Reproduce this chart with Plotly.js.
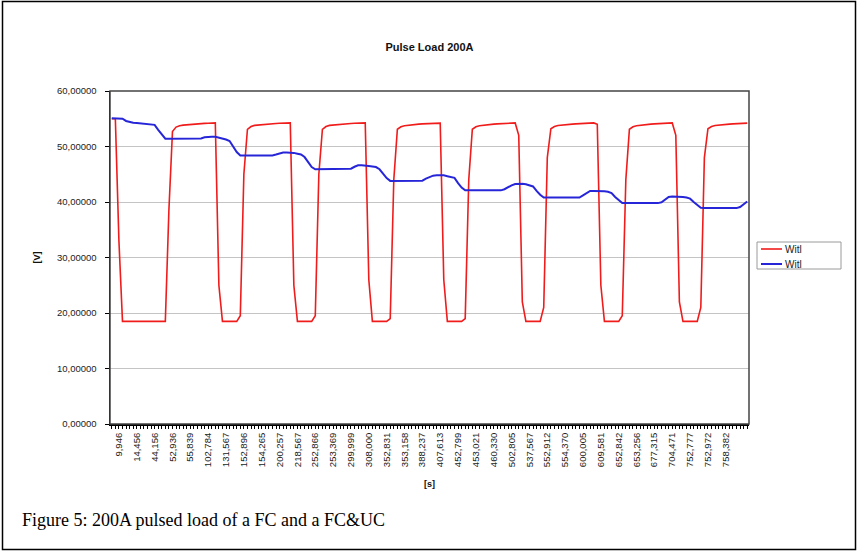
<!DOCTYPE html>
<html>
<head>
<meta charset="utf-8">
<script src="https://cdn.plot.ly/plotly-3.0.1.min.js"></script>
<style>
html,body{margin:0;padding:0;background:#fff;}
#chart{width:858px;height:551px;}
</style>
</head>
<body>
<div id="chart"></div>
<script>
// Time labels shown on the category axis (every 5th sample)
const timeLabels = ["9,946","14,456","44,156","52,936","55,839","102,784","131,567","152,896","154,265",
  "200,257","218,567","252,866","253,369","299,999","308,000","352,831","353,158","388,237","407,613",
  "452,799","453,021","460,330","502,805","537,567","552,912","554,370","600,005","609,581","652,842",
  "653,256","677,315","704,471","752,777","752,972","758,382"];

// FC voltage (red) [V], one value per sample
const redSeries = [
  55.0, 55.0, 33,
  18.5, 18.5, 18.5, 18.5, 18.5, 18.5, 18.5, 18.5, 18.5, 18.5, 18.5, 18.5, 18.5,
  38.5, 52.7, 53.5, 53.75, 53.85, 53.92, 54.0, 54.03, 54.08, 54.12, 54.16, 54.2, 54.23, 54.25,
  25,
  18.5, 18.5, 18.5, 18.5, 18.5,
  19.5, 45, 53.1, 53.6, 53.8, 53.88, 53.95, 54.0, 54.05, 54.1, 54.15, 54.18, 54.22, 54.25, 54.25,
  25,
  18.5, 18.5, 18.5, 18.5, 18.5,
  19.5, 45, 53.1, 53.6, 53.8, 53.88, 53.95, 54.0, 54.05, 54.1, 54.15, 54.18, 54.22, 54.25, 54.25,
  26,
  18.5, 18.5, 18.5, 18.5, 18.5,
  19, 44, 53.1, 53.55, 53.75, 53.85, 53.92, 54.0, 54.03, 54.08, 54.12, 54.16, 54.2, 54.22, 54.22,
  26,
  18.5, 18.5, 18.5, 18.5, 18.5,
  19, 44, 53.1, 53.55, 53.75, 53.85, 53.92, 54.0, 54.03, 54.08, 54.12, 54.16, 54.2, 54.22, 54.25, 52,
  22,
  18.5, 18.5, 18.5, 18.5, 18.5,
  21, 48, 53.2, 53.6, 53.78, 53.87, 53.93, 54.0, 54.04, 54.08, 54.12, 54.16, 54.2, 54.22, 54.25, 54.0,
  25,
  18.5, 18.5, 18.5, 18.5, 18.5,
  19.5, 44, 53.1, 53.55, 53.75, 53.85, 53.92, 54.0, 54.03, 54.08, 54.12, 54.16, 54.2, 54.22, 54.25, 52,
  22,
  18.5, 18.5, 18.5, 18.5, 18.5,
  21, 48, 53.2, 53.6, 53.78, 53.87, 53.93, 54.0, 54.04, 54.08, 54.12, 54.16, 54.2, 54.22
];

// FC&UC voltage (blue) [V], one value per sample
const blueSeries = [
  55.1, 55.1, 55.1, 55.0, 54.6, 54.4, 54.3, 54.25, 54.2, 54.1, 54.05, 54.0, 53.9, 53.0, 52.2,
  51.4, 51.4, 51.4, 51.4, 51.4, 51.4, 51.4, 51.4, 51.4, 51.4,
  51.45, 51.65, 51.75, 51.75, 51.75, 51.6, 51.45, 51.25, 51.0, 49.9, 49.0,
  48.4, 48.4, 48.4, 48.4, 48.4, 48.4, 48.4, 48.4, 48.4, 48.4,
  48.55, 48.75, 48.9, 48.9, 48.9, 48.85, 48.7, 48.55, 48.1, 47.1, 46.3,
  45.9, 45.9, 45.9, 45.9, 45.9, 45.9, 45.9, 45.9, 45.9, 45.9,
  46.0, 46.35, 46.6, 46.6, 46.6, 46.5, 46.4, 46.3, 45.9, 45.0, 44.3,
  43.8, 43.8, 43.8, 43.8, 43.8, 43.8, 43.8, 43.8, 43.8,
  43.85, 44.2, 44.5, 44.75, 44.8, 44.8, 44.8, 44.65, 44.5, 44.35, 43.4, 42.6,
  42.1, 42.1, 42.1, 42.1, 42.1, 42.1, 42.1, 42.1, 42.1, 42.1, 42.1,
  42.3, 42.7, 43.0, 43.25, 43.3, 43.3, 43.2, 43.05, 42.8, 42.0, 41.3,
  40.8, 40.8, 40.8, 40.8, 40.8, 40.8, 40.8, 40.8, 40.8, 40.8, 40.8,
  41.2, 41.6, 42.0, 42.0, 42.0, 42.0, 41.95, 41.85, 41.6, 40.9, 40.3,
  39.8, 39.8, 39.8, 39.8, 39.8, 39.8, 39.8, 39.8, 39.8, 39.8, 39.8,
  39.95, 40.4, 40.9, 41.0, 41.0, 41.0, 40.9, 40.8, 40.6, 40.0, 39.4, 38.95,
  38.9, 38.9, 38.9, 38.9, 38.9, 38.9, 38.9, 38.9, 38.9, 38.9,
  39.1, 39.6, 40.1
];

const seriesNames = ["Witl", "Witl"];
const seriesColors = ["#f01c1c", "#2626d8"];
const seriesWidths = [1.6, 2];
const yTicks = [0, 10, 20, 30, 40, 50, 60];

const sampleIndex = redSeries.map((_, i) => i);
const labelEvery = 5, labelStart = 2;
const tickPositions = timeLabels.map((_, k) => labelStart + k * labelEvery);

const FONT = "Liberation Sans, Arial, sans-serif";

// pixel helpers for layout-only decorations (frame, legend box, caption)
const ML = 110, MT = 91, PW = 639, PH = 333;
const px = v => (v - ML) / PW;
const py = v => (MT + PH - v) / PH;

const traces = [redSeries, blueSeries].map((ys, k) => ({
  x: sampleIndex, y: ys, name: seriesNames[k], type: "scatter", mode: "lines",
  line: {color: seriesColors[k], width: seriesWidths[k]}
}));

// Compact legend like the original (box + line samples + names)
const legendRows = [249, 264];
const legendShapes = [
  {type: "rect", xref: "paper", yref: "paper", x0: px(757), x1: px(841), y0: py(269), y1: py(242),
   line: {color: "#9a9a9a", width: 1}, fillcolor: "#fff"}
].concat(seriesNames.map((_, k) => ({
  type: "line", xref: "paper", yref: "paper", x0: px(761), x1: px(782),
  y0: py(legendRows[k]), y1: py(legendRows[k]),
  line: {color: seriesColors[k], width: seriesWidths[k]}
})));
const legendLabels = seriesNames.map((n, k) => ({
  text: n, xref: "paper", yref: "paper", x: px(783), y: py(legendRows[k]),
  xanchor: "left", yanchor: "middle", showarrow: false,
  font: {family: FONT, size: 10, color: "#222"}
}));

const layout = {
  width: 858, height: 551,
  margin: {l: ML, r: 858 - ML - PW, t: MT, b: 551 - MT - PH},
  paper_bgcolor: "#ffffff", plot_bgcolor: "#ffffff",
  separators: ", ",
  font: {family: FONT, color: "#222", size: 9},
  title: {text: "<b>Pulse Load 200A</b>", font: {family: FONT, size: 11, color: "#111"},
          x: 0.5, xref: "paper", xanchor: "center", y: 1 - 47/551, yanchor: "middle"},
  xaxis: {
    range: [-0.5, redSeries.length - 0.5],
    tickmode: "array", tickvals: tickPositions, ticktext: timeLabels,
    tickangle: -90, tickfont: {family: FONT, size: 9.5, color: "#222"},
    ticks: "outside", ticklen: 3, tickcolor: "#000",
    minor: {ticks: "outside", dtick: 1, tick0: 0, ticklen: 3, tickcolor: "#000", showgrid: false},
    showline: true, linecolor: "#000", linewidth: 2,
    showgrid: false, zeroline: false, automargin: false,
    title: {text: "<b>[s]</b>", font: {family: FONT, size: 9, color: "#111"}, standoff: 15}
  },
  yaxis: {
    range: [0, 60], tickmode: "array", tickvals: yTicks, tickformat: ".5f",
    tickfont: {family: FONT, size: 9.5, color: "#222"},
    ticks: "outside", ticklen: 4, tickcolor: "#000", ticklabelstandoff: 6,
    showline: true, linecolor: "#000", linewidth: 1.5,
    showgrid: true, gridcolor: "#c4c4c4", gridwidth: 1,
    zeroline: false, automargin: false,
    title: {text: "<b>[V]</b>", font: {family: FONT, size: 9, color: "#111"}, standoff: 15}
  },
  showlegend: false,
  shapes: [
    {type: "rect", xref: "paper", yref: "paper", x0: 0, x1: 1, y0: 0, y1: 1,
     line: {color: "#444", width: 1.5}, layer: "above"},
    {type: "rect", xref: "paper", yref: "paper",
     x0: px(2.5), x1: px(855.5), y0: py(549.5), y1: py(1.5),
     line: {color: "#000", width: 1.5}}
  ].concat(legendShapes),
  annotations: [
    {text: "Figure 5: 200A pulsed load of a FC and a FC&amp;UC", xref: "paper", yref: "paper",
     x: px(20), y: py(520), xanchor: "left", yanchor: "middle",
     showarrow: false, font: {family: "Liberation Serif, Times New Roman, serif", size: 18, color: "#000"}}
  ].concat(legendLabels)
};

Plotly.newPlot("chart", traces, layout, {displayModeBar: false, staticPlot: true});
</script>
</body>
</html>
